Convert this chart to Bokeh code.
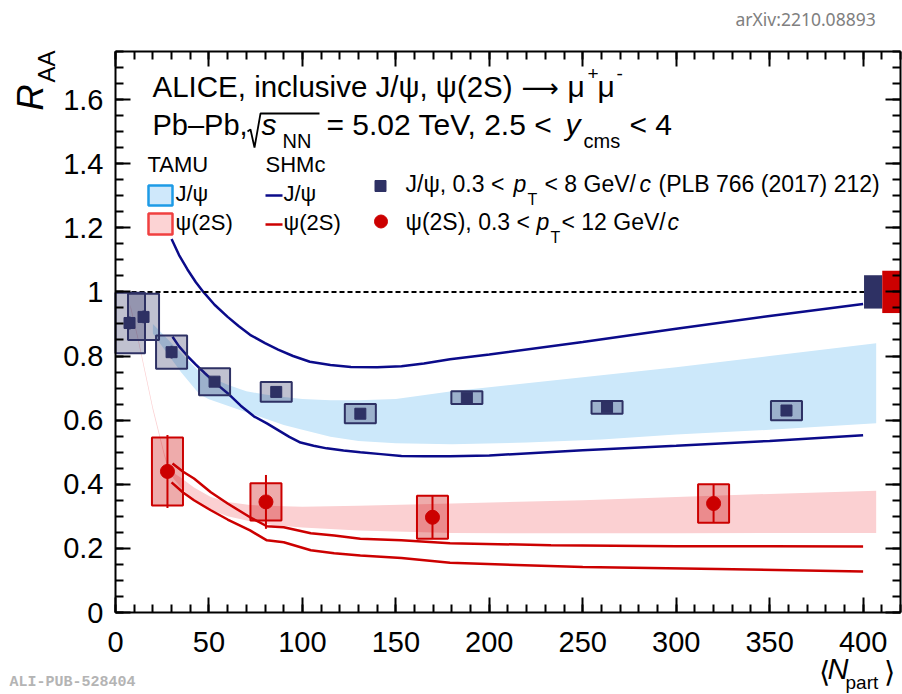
import numpy as np
from bokeh.plotting import figure
from bokeh.models import (Range1d, LinearAxis, SingleIntervalTicker, Label,
                          CustomJSTickFormatter)
from bokeh.embed import file_html
from bokeh.resources import INLINE

# ---------------- data ----------------
# ALICE J/psi (PLB 766 (2017) 212)
jpsi_npart = [7.5, 15.0, 30.0, 53.0, 86.0, 131.0, 188.0, 263.0, 359.0]
jpsi_raa = [0.903, 0.922, 0.812, 0.720, 0.688, 0.620, 0.670, 0.640, 0.630]
jpsi_stat = [0.02, 0.02, 0.02, 0.015, 0.012, 0.012, 0.01, 0.01, 0.01]
jpsi_syst = [0.094, 0.072, 0.052, 0.042, 0.031, 0.030, 0.020, 0.020, 0.030]

# ALICE psi(2S)
psi_npart = [27.8, 80.5, 169.6, 320.0]
psi_raa = [0.440, 0.345, 0.297, 0.340]
psi_stat = [0.114, 0.084, 0.067, 0.060]
psi_syst = [0.106, 0.058, 0.067, 0.060]

# global (correlated) uncertainties: J/psi, psi(2S)
global_unc = [0.052, 0.066]
unity = 1.0

# TAMU bands
tamu_jpsi_x = [20, 25, 30, 35, 40, 45, 50, 60, 70, 80, 90, 100, 115, 130, 150, 180, 220, 260, 300, 350, 407]
tamu_jpsi_hi = [0.90, 0.87, 0.84, 0.81, 0.78, 0.75, 0.735, 0.71, 0.69, 0.68, 0.672, 0.666, 0.662, 0.662,
                0.666, 0.69, 0.715, 0.74, 0.765, 0.80, 0.84]
tamu_jpsi_lo = [0.87, 0.83, 0.79, 0.75, 0.715, 0.68, 0.665, 0.645, 0.625, 0.605, 0.585, 0.57, 0.548, 0.535,
                0.528, 0.525, 0.53, 0.54, 0.555, 0.57, 0.59]

tamu_psi_x = [8, 12, 16, 20, 23, 26, 28, 30, 35, 42, 51, 60, 72, 85, 100, 130, 180, 250, 300, 350, 407]
tamu_psi_hi = [0.96, 0.86, 0.75, 0.64, 0.57, 0.50, 0.46, 0.44, 0.42, 0.39, 0.36, 0.345, 0.335, 0.332,
               0.33, 0.333, 0.34, 0.35, 0.36, 0.37, 0.38]
tamu_psi_lo = [0.95, 0.85, 0.74, 0.63, 0.56, 0.49, 0.45, 0.425, 0.39, 0.35, 0.32, 0.30, 0.285, 0.272,
               0.265, 0.256, 0.248, 0.247, 0.247, 0.248, 0.248]

# SHMc curves
shm_jpsi_hi_x = [30, 34, 38.5, 43, 47, 53, 60, 66, 72, 80, 87, 95, 104, 115, 126, 140, 153, 165, 179, 200, 250, 300, 350, 400]
shm_jpsi_hi_y = [1.165, 1.115, 1.07, 1.03, 1.0, 0.96, 0.922, 0.893, 0.866, 0.84, 0.82, 0.80, 0.782, 0.772,
                 0.766, 0.765, 0.768, 0.777, 0.79, 0.805, 0.844, 0.885, 0.925, 0.962]
shm_jpsi_lo_x = [30.5, 34, 38.5, 43, 47.7, 54, 60, 67, 74, 81, 87, 93, 99, 106, 113, 122, 131, 142, 153, 165, 179, 200, 250, 300, 350, 400]
shm_jpsi_lo_y = [0.86, 0.83, 0.80, 0.773, 0.747, 0.713, 0.684, 0.645, 0.612, 0.59, 0.569, 0.548, 0.53, 0.52,
                 0.512, 0.505, 0.50, 0.494, 0.488, 0.487, 0.487, 0.49, 0.506, 0.52, 0.535, 0.553]
shm_psi_hi_x = [30.5, 36, 42, 51, 60, 72, 81, 90, 104.5, 117, 131, 153, 179, 233, 300, 350, 400]
shm_psi_hi_y = [0.465, 0.44, 0.418, 0.375, 0.34, 0.297, 0.269, 0.266, 0.247, 0.24, 0.23, 0.225, 0.216,
                0.21, 0.207, 0.207, 0.206]
shm_psi_lo_x = [30, 36, 42, 51, 60, 72, 81, 90, 104.5, 117, 131, 153, 179, 250, 322, 400]
shm_psi_lo_y = [0.406, 0.375, 0.35, 0.319, 0.29, 0.256, 0.225, 0.219, 0.194, 0.185, 0.178, 0.17, 0.155,
                0.142, 0.136, 0.128]

# axis extents
X_MIN, X_MAX = 0.0, 420.0
Y_MIN, Y_MAX = 0.0, 1.75

# ---------------- styles / layout ----------------
NAVY = "#2e3164"
RED = "#cc0000"
SHM_BLUE = "#0b0b8a"
BAND_BLUE = "#cce8fa"
BAND_RED = "#fbd0d2"
FONT = "Liberation Sans"
BOX_HW = 8.3
GLOB_X0, GLOB_W = 400.5, 9.75
BASE_SHIFT = 0.37              # label baseline correction, in em

W, H = 902, 694
SX, SY = 1.869, 320.6          # pixels per data unit
X0PX, Y0PX = 115.0, 612.0      # pixel position of the (0, 0) corner


def DX(px):
    return (px - X0PX) / SX


def DY(py):
    return (Y0PX - py) / SY


p = figure(width=W, height=H, x_range=Range1d(DX(0), DX(W)), y_range=Range1d(DY(H), DY(0)),
           output_backend="svg", toolbar_location=None, min_border=0, title=None)
p.xgrid.visible = False
p.ygrid.visible = False
p.outline_line_color = None
p.background_fill_color = "white"
p.border_fill_color = "white"


def style_axis(ax, labels=True):
    ax.axis_line_width = 2
    ax.major_tick_line_width = 2
    ax.minor_tick_line_width = 2
    ax.major_tick_in = 15
    ax.major_tick_out = 0
    ax.minor_tick_in = 8
    ax.minor_tick_out = 0
    if labels:
        ax.major_label_text_font = FONT
        ax.major_label_text_font_size = "29px"
        ax.major_label_text_color = "black"
    else:
        ax.major_label_text_color = None


# bottom / left axes (fixed at the frame corners)
p.xaxis.ticker = SingleIntervalTicker(interval=50, num_minor_ticks=5)
p.yaxis.ticker = SingleIntervalTicker(interval=0.2, num_minor_ticks=4)
style_axis(p.xaxis[0])
style_axis(p.yaxis[0])
p.xaxis.fixed_location = Y_MIN
p.yaxis.fixed_location = X_MIN
p.xaxis.bounds = (X_MIN, X_MAX)
p.yaxis.bounds = (Y_MIN, Y_MAX)
p.xaxis.major_label_standoff = 19
p.yaxis.major_label_standoff = 12
p.yaxis.formatter = CustomJSTickFormatter(code="return (Math.round(tick*100)/100).toString();")

top = LinearAxis(ticker=SingleIntervalTicker(interval=50, num_minor_ticks=5),
                 fixed_location=Y_MAX, bounds=(X_MIN, X_MAX))
style_axis(top, labels=False)
p.add_layout(top, "above")
right = LinearAxis(ticker=SingleIntervalTicker(interval=0.2, num_minor_ticks=4),
                   fixed_location=X_MAX, bounds=(Y_MIN, Y_MAX))
style_axis(right, labels=False)
p.add_layout(right, "right")

# bands
p.varea(x=tamu_jpsi_x, y1=tamu_jpsi_lo, y2=tamu_jpsi_hi, fill_color=BAND_BLUE)
p.varea(x=tamu_psi_x, y1=tamu_psi_lo, y2=tamu_psi_hi, fill_color=BAND_RED)

# SHMc curves
p.line(shm_jpsi_hi_x, shm_jpsi_hi_y, line_color=SHM_BLUE, line_width=2.5)
p.line(shm_jpsi_lo_x, shm_jpsi_lo_y, line_color=SHM_BLUE, line_width=2.5)
p.line(shm_psi_hi_x, shm_psi_hi_y, line_color=RED, line_width=2.5)
p.line(shm_psi_lo_x, shm_psi_lo_y, line_color=RED, line_width=2.5)

# unity line
p.segment(x0=[X_MIN], x1=[GLOB_X0], y0=[unity], y1=[unity], line_color="black",
          line_width=2, line_dash="5 3")

# J/psi data
jx = np.array(jpsi_npart); jy = np.array(jpsi_raa)
js = np.array(jpsi_syst); je = np.array(jpsi_stat)
p.quad(left=np.maximum(jx - BOX_HW, X_MIN), right=jx + BOX_HW, bottom=jy - js, top=jy + js,
       fill_color=NAVY, fill_alpha=0.3, line_color=NAVY, line_width=2)
p.segment(x0=jx, y0=jy - je, x1=jx, y1=jy + je, line_color=NAVY, line_width=2)
p.scatter(jx, jy, marker="square", size=11, color=NAVY)

# psi(2S) data
px_ = np.array(psi_npart); py_ = np.array(psi_raa)
ps = np.array(psi_syst); pe = np.array(psi_stat)
p.quad(left=px_ - BOX_HW, right=px_ + BOX_HW, bottom=py_ - ps, top=py_ + ps,
       fill_color=RED, fill_alpha=0.33, line_color=RED, line_width=2)
p.segment(x0=px_, y0=py_ - pe, x1=px_, y1=py_ + pe, line_color=RED, line_width=2)
p.scatter(px_, py_, marker="circle", size=14, color=RED)

# global uncertainty boxes
g = np.array(global_unc)
p.quad(left=[GLOB_X0, GLOB_X0 + GLOB_W], right=[GLOB_X0 + GLOB_W, X_MAX],
       bottom=unity - g, top=unity + g, fill_color=[NAVY, RED], line_color=None)


# ---------------- texts ----------------
def txt(s, px, py, size, style="normal", color="black", font=FONT, rotated=False):
    shift = BASE_SHIFT * size
    if rotated:
        px, angle = px - shift, np.pi / 2
    else:
        py, angle = py - shift, 0.0
    p.add_layout(Label(x=DX(px), y=DY(py), text=s, text_font=font, text_font_size=f"{size}px",
                       text_font_style=style, text_color=color, angle=angle,
                       text_align="left", text_baseline="alphabetic"))


# header line 1
txt("ALICE, inclusive J/ψ, ψ(2S)", 152, 97, 29.5)
txt("⟶", 521, 97, 26, font="DejaVu Sans")
txt("μ", 567, 97, 30)
txt("+", 587, 80, 19)
txt("μ", 597, 97, 30)
txt("-", 616, 80, 19)

# header line 2
txt("Pb–Pb,", 152, 135, 29)
p.line([DX(247), DX(250), DX(254), DX(260), DX(319)],
       [DY(131), DY(129), DY(147), DY(113), DY(113)], line_color="black", line_width=1.8)
txt("s", 261, 135, 30, style="italic")
txt("NN", 282, 148, 20)
txt("= 5.02 TeV, 2.5 <", 326, 135, 30)
txt("y", 565, 135, 30, style="italic")
txt("cms", 583, 148, 20)
txt("< 4", 629, 135, 30)

# TAMU / SHMc legend
txt("TAMU", 147, 172, 22)
txt("SHMc", 265, 172, 22)
p.quad(left=DX(148), right=DX(172), bottom=DY(205), top=DY(185),
       fill_color="#cfe8fb", line_color="#1e9be6", line_width=2.5)
p.quad(left=DX(148), right=DX(172), bottom=DY(234), top=DY(213),
       fill_color="#fcd3d4", line_color="#f04040", line_width=2.5)
txt("J/ψ", 175, 201, 22)
txt("ψ(2S)", 175, 230, 22)
p.line([DX(265), DX(282)], [DY(195), DY(195)], line_color=SHM_BLUE, line_width=2.5)
p.line([DX(265), DX(282)], [DY(224), DY(224)], line_color=RED, line_width=2.5)
txt("J/ψ", 283, 201, 22)
txt("ψ(2S)", 283, 230, 22)

# data legend
p.scatter([DX(380)], [DY(185.5)], marker="square", size=11, color=NAVY)
p.scatter([DX(380.5)], [DY(221)], marker="circle", size=13, color=RED)
txt("J/ψ, 0.3 <", 405, 192, 23)
txt("p", 513, 192, 23, style="italic")
txt("T", 527, 205, 16)
txt("< 8 GeV/", 544, 192, 23)
txt("c", 639, 192, 23, style="italic")
txt("(PLB 766 (2017) 212)", 658, 192, 23)
txt("ψ(2S), 0.3 <", 405, 230, 23)
txt("p", 536, 230, 23, style="italic")
txt("T", 550, 243, 16)
txt("< 12 GeV/", 561, 230, 23)
txt("c", 667, 230, 23, style="italic")

# axis titles
txt("R", 43, 110, 36, style="italic", rotated=True)
txt("AA", 55, 82, 24, rotated=True)
txt("⟨", 818, 682, 29)
txt("N", 827, 679, 29, style="italic")
txt("part", 845, 689, 19)
txt("⟩", 883, 682, 29)

# watermarks
txt("arXiv:2210.08893", 735, 25, 17.5, color="#808080", font="Noto Sans")
txt("ALI-PUB-528404", 9, 688, 15, color="#b4b4b4", font="Liberation Mono", style="bold")

open("out.html", "w").write(file_html(p, INLINE))
